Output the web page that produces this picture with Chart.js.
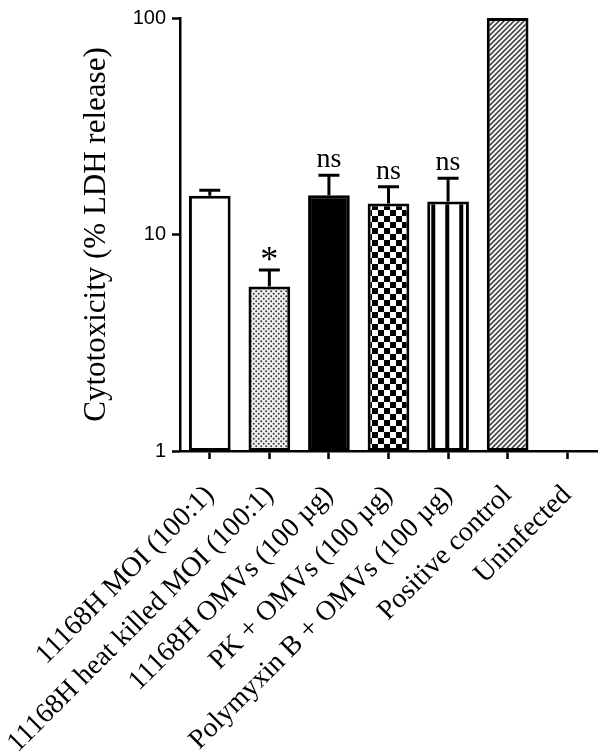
<!DOCTYPE html>
<html>
<head>
<meta charset="utf-8">
<script src="https://cdn.jsdelivr.net/npm/chart.js@4/dist/chart.umd.min.js"></script>
<style>
  html, body { margin: 0; padding: 0; background: #fff; }
  #wrap { width: 600px; height: 755px; position: relative; }
</style>
</head>
<body>
<div id="wrap"><canvas id="c" width="600" height="755"></canvas></div>
<script>
// ---- data ----
const categories = [
  "11168H MOI (100:1)",
  "11168H heat killed MOI (100:1)",
  "11168H OMVs (100 \u00b5g)",
  "PK + OMVs (100 \u00b5g)",
  "Polymyxin B + OMVs (100 \u00b5g)",
  "Positive control",
  "Uninfected"
];
const cytotoxicity = [15.1, 5.75, 15.2, 13.9, 14.2, 100, null];
const errorUpper   = [16.0, 6.85, 18.8, 16.6, 18.2, null, null];
const significance = ["", "*", "ns", "ns", "ns", "", ""];
const yTicks = [1, 10, 100];
const yTitle = "Cytotoxicity (% LDH release)";

// ---- fill patterns ----
function makeTile(w, h, draw) {
  const cv = document.createElement('canvas');
  cv.width = w; cv.height = h;
  const g = cv.getContext('2d');
  draw(g, w, h);
  return document.createElement('canvas').getContext('2d').createPattern(cv, 'repeat');
}
const dotPattern = makeTile(5, 5, (g, w, h) => {
  g.fillStyle = '#f0f0f0'; g.fillRect(0, 0, w, h);
  g.fillStyle = '#3a3a3a';
  g.beginPath(); g.arc(1.2, 1.2, 1.0, 0, Math.PI * 2); g.fill();
  g.beginPath(); g.arc(3.7, 3.7, 1.0, 0, Math.PI * 2); g.fill();
});
const checkPattern = makeTile(12, 12, (g, w, h) => {
  g.fillStyle = '#fff'; g.fillRect(0, 0, w, h);
  g.fillStyle = '#000';
  g.fillRect(0, 0, 6, 6);
  g.fillRect(6, 6, 6, 6);
});
const stripePattern = makeTile(14, 2, (g, w, h) => {
  g.fillStyle = '#fff'; g.fillRect(0, 0, w, h);
  g.fillStyle = '#000'; g.fillRect(4, 0, 4, h);
});
const hatchPattern = makeTile(5, 5, (g, w, h) => {
  g.fillStyle = '#f4f4f4'; g.fillRect(0, 0, w, h);
  g.strokeStyle = '#333'; g.lineWidth = 1.5;
  for (let k = -1; k <= 1; k++) {
    g.beginPath(); g.moveTo(-1 + k * 5, 6); g.lineTo(6 + k * 5, -1); g.stroke();
  }
});
const fills = ['#ffffff', dotPattern, '#000000', checkPattern, stripePattern, hatchPattern, '#ffffff'];

// ---- plugins ----
const patternAlign = {
  id: 'patternAlign',
  beforeDatasetsDraw(chart) {
    const el = chart.getDatasetMeta(0).data[4];
    if (el && stripePattern.setTransform) {
      const left = el.x - el.width / 2;
      stripePattern.setTransform(new DOMMatrix([1, 0, 0, 1, left, 0]));
    }
  }
};
const errorBars = {
  id: 'errorBars',
  afterDatasetsDraw(chart) {
    const ctx = chart.ctx;
    const y = chart.scales.y;
    const meta = chart.getDatasetMeta(0);
    ctx.save();
    ctx.strokeStyle = '#000';
    ctx.lineWidth = 3;
    ctx.fillStyle = '#000';
    ctx.textAlign = 'center';
    meta.data.forEach((bar, i) => {
      if (cytotoxicity[i] == null) return;
      let topY = bar.y;
      if (errorUpper[i] != null) {
        topY = y.getPixelForValue(errorUpper[i]);
        ctx.beginPath();
        ctx.moveTo(bar.x, bar.y);
        ctx.lineTo(bar.x, topY);
        ctx.moveTo(bar.x - 10.5, topY);
        ctx.lineTo(bar.x + 10.5, topY);
        ctx.stroke();
      }
      const s = significance[i];
      if (s === '*') {
        ctx.font = '36px "Liberation Serif"';
        ctx.textBaseline = 'alphabetic';
        ctx.fillText(s, bar.x, topY + 1);
      } else if (s) {
        ctx.font = '28px "Liberation Serif"';
        ctx.textBaseline = 'alphabetic';
        ctx.fillText(s, bar.x, topY - 8);
      }
    });
    ctx.restore();
  }
};

new Chart(document.getElementById('c'), {
  type: 'bar',
  data: {
    labels: categories,
    datasets: [{
      data: cytotoxicity,
      backgroundColor: fills,
      borderColor: '#000',
      borderWidth: 3,
      borderSkipped: false,
      barPercentage: 0.7,
      categoryPercentage: 1.0
    }]
  },
  options: {
    responsive: false,
    animation: false,
    devicePixelRatio: 1,
    layout: { padding: { top: 11, right: 3, bottom: 0, left: 0 } },
    plugins: { legend: { display: false }, tooltip: { enabled: false } },
    scales: {
      x: {
        type: 'category',
        offset: true,
        border: { display: true, color: '#000', width: 2.5 },
        grid: { display: true, offset: false, drawOnChartArea: false, drawTicks: true,
                tickLength: 8, tickColor: '#000', tickWidth: 2.5, color: '#000' },
        ticks: {
          autoSkip: false, minRotation: 45, maxRotation: 45, padding: 20,
          color: '#000', font: { family: 'Liberation Serif', size: 28 }
        },
        afterFit(scale) { scale.height = 304; scale.paddingRight = 0; }
      },
      y: {
        type: 'logarithmic',
        min: 1, max: 100,
        border: { display: true, color: '#000', width: 2.5 },
        grid: { display: true, drawOnChartArea: false, drawTicks: true,
                tickLength: 8, tickColor: '#000', tickWidth: 2.5, color: '#000' },
        afterBuildTicks(scale) { scale.ticks = yTicks.map(v => ({ value: v })); },
        ticks: {
          padding: 6, color: '#000',
          font: { family: 'Liberation Sans', size: 20 },
          callback: (v) => String(v)
        },
        title: {
          display: true, text: yTitle, color: '#000',
          font: { family: 'Liberation Serif', size: 31 },
          padding: { top: 78, bottom: 0 }
        },
        afterFit(scale) { scale.width = 180; }
      }
    }
  },
  plugins: [patternAlign, errorBars]
});
</script>
</body>
</html>
